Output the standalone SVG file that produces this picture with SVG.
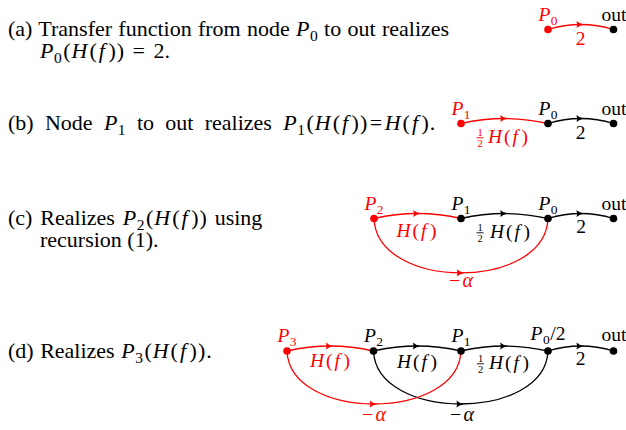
<svg xmlns="http://www.w3.org/2000/svg" width="626" height="430" viewBox="0 0 626 430">
<style>
text{font-family:"Liberation Serif","Times New Roman",serif;fill:#000}
.body{font-size:22px}
.sb{font-size:15.5px}
.lab{font-size:19.5px}
.ls{font-size:13.5px}
.fr{font-size:10.5px}
.i{font-style:italic}
.r{fill:#ff0000}
.e{fill:none;stroke:#000;stroke-width:1.3;marker-mid:url(#ak)}
.er{fill:none;stroke:#ff0000;stroke-width:1.3;marker-mid:url(#ar)}
.bar{stroke:#000;stroke-width:0.9}
.barr{stroke:#ff0000;stroke-width:0.9}
.ma{font-size:20px}
</style>
<defs>
<marker id="ak" markerUnits="userSpaceOnUse" markerWidth="12" markerHeight="12" viewBox="-6 -6 12 12" refX="0" refY="0" orient="auto" overflow="visible">
<path d="M-4.3,-3.6 Q-1.5,-1 3,0 Q-1.5,1 -4.3,3.6 Q-2.8,0 -4.3,-3.6Z" fill="#000"/>
</marker>
<marker id="ar" markerUnits="userSpaceOnUse" markerWidth="12" markerHeight="12" viewBox="-6 -6 12 12" refX="0" refY="0" orient="auto" overflow="visible">
<path d="M-4.3,-3.6 Q-1.5,-1 3,0 Q-1.5,1 -4.3,3.6 Q-2.8,0 -4.3,-3.6Z" fill="#ff0000"/>
</marker>
</defs>

<!-- captions -->
<g id="captions" class="body">
<text x="8" y="36" word-spacing="0.8">(a) Transfer function from node <tspan class="i">P</tspan><tspan class="sb" dx="0.5" dy="4.5">0</tspan><tspan dy="-4.5"> to out realizes</tspan></text>
<text x="40" y="58"><tspan class="i">P</tspan><tspan class="sb" dx="0.5" dy="4.5">0</tspan><tspan dy="-4.5" dx="1.5">(</tspan><tspan class="i" dx="1">H</tspan><tspan dx="2">(</tspan><tspan class="i" dx="2">f</tspan><tspan dx="3.5">)</tspan><tspan dx="1">)</tspan><tspan dx="8.5">=</tspan><tspan dx="8.5">2.</tspan></text>
<text x="8" y="130" word-spacing="5.8">(b) Node <tspan class="i">P</tspan><tspan class="sb" dx="0.5" dy="4.5">1</tspan><tspan dy="-4.5"> to out realizes </tspan><tspan class="i">P</tspan><tspan class="sb" dx="0.5" dy="4.5">1</tspan><tspan dy="-4.5" dx="1.5">(</tspan><tspan class="i" dx="1">H</tspan><tspan dx="2">(</tspan><tspan class="i" dx="2">f</tspan><tspan dx="3.5">)</tspan><tspan dx="1">)</tspan><tspan dx="2.5">=</tspan><tspan class="i" dx="2.5">H</tspan><tspan dx="2">(</tspan><tspan class="i" dx="2">f</tspan><tspan dx="3.5">)</tspan><tspan dx="1">.</tspan></text>
<text x="8" y="225" word-spacing="2.4">(c) Realizes <tspan class="i">P</tspan><tspan class="sb" dx="0.5" dy="4.5">2</tspan><tspan dy="-4.5" dx="1.5">(</tspan><tspan class="i" dx="1">H</tspan><tspan dx="2">(</tspan><tspan class="i" dx="2">f</tspan><tspan dx="3.5">)</tspan><tspan dx="1">) using</tspan></text>
<text x="40" y="247">recursion (1).</text>
<text x="8" y="358" word-spacing="1">(d) Realizes <tspan class="i">P</tspan><tspan class="sb" dx="0.5" dy="4.5">3</tspan><tspan dy="-4.5" dx="1.5">(</tspan><tspan class="i" dx="1">H</tspan><tspan dx="2">(</tspan><tspan class="i" dx="2">f</tspan><tspan dx="3.5">)</tspan><tspan dx="1">)</tspan><tspan dx="1">.</tspan></text>
</g>

<!-- connectors -->
<g id="connectors">
<path class="er" d="M548,29.5 Q564.4,24.5 580.75,24.5 Q597.1,24.5 613.5,29.5"/>
<path class="er" d="M461,123.5 Q482.75,118.5 504.5,118.5 Q526.25,118.5 548,123.5"/>
<path class="e" d="M548,123.5 Q564.4,118.5 580.75,118.5 Q597.1,118.5 613.5,123.5"/>
<path class="er" d="M374,218.5 Q395.75,213.5 417.5,213.5 Q439.25,213.5 461,218.5"/>
<path class="e" d="M461,218.5 Q482.75,213.5 504.5,213.5 Q526.25,213.5 548,218.5"/>
<path class="e" d="M548,218.5 Q564.4,213.5 580.75,213.5 Q597.1,213.5 613.5,218.5"/>
<path class="er" d="M374,218.5 C375.5,254.75 418.25,272.9 461,272.9 C503.75,272.9 546.5,254.75 548,218.5"/>
<path class="er" d="M287,351 Q308.6,346 330.25,346 Q351.9,346 373.5,351"/>
<path class="e" d="M373.5,351 Q395.4,346 417.25,346 Q439.1,346 461,351"/>
<path class="e" d="M461,351 Q482.75,346 504.5,346 Q526.25,346 548,351"/>
<path class="e" d="M548,351 Q564.4,346 580.75,346 Q597.1,346 613.5,351"/>
<path class="e" d="M373.5,351 C375,386.35 417.9,404 460.75,404 C503.6,404 546.5,386.35 548,351"/>
<path class="er" d="M287,351 C288.5,386.35 331.25,404 374,404 C416.75,404 459.5,386.35 461,351"/>
</g>

<!-- edge labels -->
<g id="edge-labels" class="lab">
<text class="r" x="580.5" y="44.5" text-anchor="middle">2</text>
<text class="fr r" x="480" y="136" text-anchor="middle">1</text>
<line class="barr" x1="476.5" y1="137.8" x2="483.5" y2="137.8"/>
<text class="fr r" x="480" y="147.3" text-anchor="middle">2</text>
<text class="r" x="488" y="143"><tspan class="i">H</tspan><tspan dx="2">(</tspan><tspan class="i" dx="2">f</tspan><tspan dx="3.5">)</tspan></text>
<text x="580.5" y="138.5" text-anchor="middle">2</text>
<text class="r" x="416.5" y="236.5" text-anchor="middle"><tspan class="i">H</tspan><tspan dx="2">(</tspan><tspan class="i" dx="2">f</tspan><tspan dx="3.5">)</tspan></text>
<text class="fr" x="480" y="231" text-anchor="middle">1</text>
<line class="bar" x1="476.5" y1="232.8" x2="483.5" y2="232.8"/>
<text class="fr" x="480" y="242.3" text-anchor="middle">2</text>
<text x="490" y="238"><tspan class="i">H</tspan><tspan dx="2">(</tspan><tspan class="i" dx="2">f</tspan><tspan dx="3.5">)</tspan></text>
<text x="581" y="233" text-anchor="middle">2</text>
<text class="r ma" x="461" y="287" text-anchor="middle">−<tspan class="i" dx="2">α</tspan></text>
<text class="r" x="330" y="366.7" text-anchor="middle"><tspan class="i">H</tspan><tspan dx="2">(</tspan><tspan class="i" dx="2">f</tspan><tspan dx="3.5">)</tspan></text>
<text x="417" y="367.5" text-anchor="middle"><tspan class="i">H</tspan><tspan dx="2">(</tspan><tspan class="i" dx="2">f</tspan><tspan dx="3.5">)</tspan></text>
<text class="fr" x="480.5" y="362" text-anchor="middle">1</text>
<line class="bar" x1="477" y1="363.8" x2="484" y2="363.8"/>
<text class="fr" x="480.5" y="373.3" text-anchor="middle">2</text>
<text x="489" y="369"><tspan class="i">H</tspan><tspan dx="2">(</tspan><tspan class="i" dx="2">f</tspan><tspan dx="3.5">)</tspan></text>
<text x="580.5" y="364.5" text-anchor="middle">2</text>
<text class="r ma" x="374" y="421" text-anchor="middle">−<tspan class="i" dx="2">α</tspan></text>
<text class="ma" x="462" y="421" text-anchor="middle">−<tspan class="i" dx="2">α</tspan></text>
</g>

<!-- nodes -->
<g class="lab">
<g id="a-P0"><circle cx="548" cy="29.5" r="3.8" fill="#ff0000"/><text class="r" x="548" y="21" text-anchor="middle"><tspan class="i">P</tspan><tspan class="ls" dx="0.5" dy="4">0</tspan></text></g>
<g id="a-out"><circle cx="613.5" cy="29.5" r="3.8"/><text x="614" y="21" text-anchor="middle">out</text></g>

<g id="b-P1"><circle cx="461" cy="123.5" r="3.8" fill="#ff0000"/><text class="r" x="461" y="115" text-anchor="middle"><tspan class="i">P</tspan><tspan class="ls" dx="0.5" dy="4">1</tspan></text></g>
<g id="b-P0"><circle cx="548" cy="123.5" r="3.8"/><text x="548" y="115" text-anchor="middle"><tspan class="i">P</tspan><tspan class="ls" dx="0.5" dy="4">0</tspan></text></g>
<g id="b-out"><circle cx="613.5" cy="123.5" r="3.8"/><text x="614" y="115" text-anchor="middle">out</text></g>

<g id="c-P2"><circle cx="374" cy="218.5" r="3.8" fill="#ff0000"/><text class="r" x="374" y="209.5" text-anchor="middle"><tspan class="i">P</tspan><tspan class="ls" dx="0.5" dy="4">2</tspan></text></g>
<g id="c-P1"><circle cx="461" cy="218.5" r="3.8"/><text x="461" y="210" text-anchor="middle"><tspan class="i">P</tspan><tspan class="ls" dx="0.5" dy="4">1</tspan></text></g>
<g id="c-P0"><circle cx="548" cy="218.5" r="3.8"/><text x="548" y="210" text-anchor="middle"><tspan class="i">P</tspan><tspan class="ls" dx="0.5" dy="4">0</tspan></text></g>
<g id="c-out"><circle cx="613.5" cy="218.5" r="3.8"/><text x="614" y="210" text-anchor="middle">out</text></g>

<g id="d-P3"><circle cx="287" cy="351" r="3.8" fill="#ff0000"/><text class="r" x="287" y="342" text-anchor="middle"><tspan class="i">P</tspan><tspan class="ls" dx="0.5" dy="4">3</tspan></text></g>
<g id="d-P2"><circle cx="373.5" cy="351" r="3.8"/><text x="373.5" y="342" text-anchor="middle"><tspan class="i">P</tspan><tspan class="ls" dx="0.5" dy="4">2</tspan></text></g>
<g id="d-P1"><circle cx="461" cy="351" r="3.8"/><text x="461" y="342" text-anchor="middle"><tspan class="i">P</tspan><tspan class="ls" dx="0.5" dy="4">1</tspan></text></g>
<g id="d-P0half"><circle cx="548" cy="351" r="3.8"/><text x="548" y="339.5" text-anchor="middle"><tspan class="i">P</tspan><tspan class="ls" dx="0.5" dy="4">0</tspan><tspan dx="0.5" dy="-4">/2</tspan></text></g>
<g id="d-out"><circle cx="613.5" cy="351" r="3.8"/><text x="614" y="341" text-anchor="middle">out</text></g>
</g>
</svg>
